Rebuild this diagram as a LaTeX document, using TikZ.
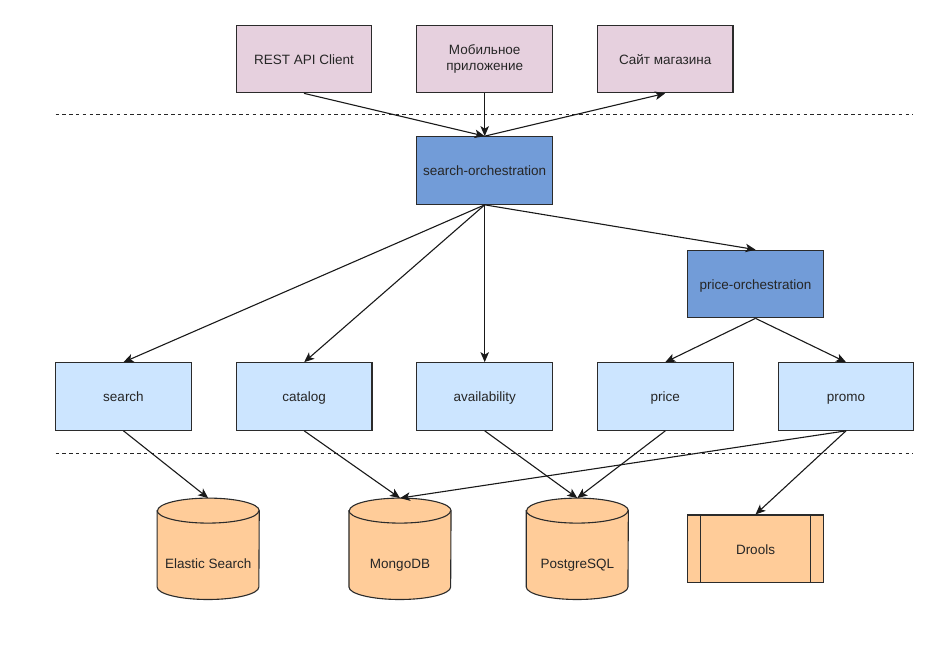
\documentclass[tikz,border=0pt]{standalone}
\usepackage{fontspec}
\setmainfont{Liberation Sans}
\usetikzlibrary{arrows.meta}
\definecolor{pinkf}{HTML}{E6D0DE}
\definecolor{darkb}{HTML}{729CD8}
\definecolor{lightb}{HTML}{CCE5FF}
\definecolor{orangef}{HTML}{FFCC99}
\definecolor{strokec}{HTML}{2B2B2B}
\definecolor{txt}{HTML}{262626}
\newcommand\dbcyl[1]{%
  \path[draw=strokec, fill=orangef, line width=1.1pt]
    ([yshift=-12.5pt]#1.north west) -- ([yshift=12.5pt]#1.south west)
    arc[start angle=180, end angle=360, x radius=50.85pt, y radius=12.5pt]
    -- ([yshift=-12.5pt]#1.north east)
    arc[start angle=0, end angle=180, x radius=50.85pt, y radius=12.5pt] -- cycle;
  \draw[strokec, line width=1.1pt] ([yshift=-12.5pt]#1.north west)
    arc[start angle=180, end angle=360, x radius=50.85pt, y radius=12.5pt];
}
\begin{document}
\begin{tikzpicture}[x=1pt, y=1pt,
  base/.style={draw=strokec, line width=1.1pt, minimum width=135.6pt, minimum height=67.6pt,
    inner sep=0pt, font=\fontsize{13.5}{16.5}\selectfont, text=txt, align=center},
  box/.style={base, text height=11.6pt, text depth=1.1pt},
  client/.style={box, fill=pinkf},
  client2/.style={base, fill=pinkf},
  orch/.style={box, fill=darkb},
  svc/.style={box, fill=lightb},
  cyl/.style={draw=none, minimum width=101.7pt, minimum height=101pt, inner sep=0pt},
  lbl/.style={font=\fontsize{13.5}{16.5}\selectfont, text=txt, inner sep=0pt, text height=11.6pt, text depth=1.1pt},
  arr/.style={draw=black!90, line width=1.1pt, -{Stealth[length=10pt, width=8.5pt, inset=2.5pt]}},
  sep/.style={draw=black!85, line width=1pt, dash pattern=on 3.4pt off 3.4pt},
]
\useasboundingbox (0,0) rectangle (939,-650);

% separators
\coordinate (s1a) at (55.5,-114.3);
\coordinate (s1b) at (913,-114.3);
\coordinate (s2a) at (55.5,-453.3);
\coordinate (s2b) at (913,-453.3);
\draw[sep] (s1a) -- (s1b);
\draw[sep] (s2a) -- (s2b);

% clients
\node[client] (rest) at (304,-59) {REST API Client};
\node[client2] (mob) at (484.7,-59) {Мобильное\\приложение};
\node[client] (site) at (665.2,-59) {Сайт магазина};

% orchestration
\node[orch] (so) at (484.7,-170.5) {search-orchestration};
\node[orch] (po) at (755.5,-284) {price-orchestration};

% services
\node[svc] (search) at (123.5,-396.5) {search};
\node[svc] (catalog) at (304.2,-396.5) {catalog};
\node[svc] (avail) at (484.7,-396.5) {availability};
\node[svc] (price) at (665.3,-396.5) {price};
\node[svc] (promo) at (846,-396.5) {promo};

% storages
\node[cyl] (es) at (208.2,-548.8) {};
\node[cyl] (mongo) at (400,-548.8) {};
\node[cyl] (pg) at (577.3,-548.8) {};
\dbcyl{es}
\dbcyl{mongo}
\dbcyl{pg}
\node[lbl] (esl) at ([yshift=-14pt]es.center) {Elastic Search};
\node[lbl] (mongol) at ([yshift=-14pt]mongo.center) {MongoDB};
\node[lbl] (pgl) at ([yshift=-14pt]pg.center) {PostgreSQL};

\node[box, fill=orangef] (dr) at (755.5,-548.8) {Drools};
\draw[strokec, line width=1.1pt] ([xshift=13.6pt]dr.north west) -- ([xshift=13.6pt]dr.south west);
\draw[strokec, line width=1.1pt] ([xshift=-13.6pt]dr.north east) -- ([xshift=-13.6pt]dr.south east);

% connectors
\draw[arr] (rest.south) -- (so.north);
\draw[arr] (mob.south) -- (so.north);
\draw[arr] (so.north) -- (site.south);
\draw[arr] (so.south) -- (search.north);
\draw[arr] (so.south) -- (catalog.north);
\draw[arr] (so.south) -- (avail.north);
\draw[arr] (so.south) -- (po.north);
\draw[arr] (po.south) -- (price.north);
\draw[arr] (po.south) -- (promo.north);
\draw[arr] (search.south) -- (es.north);
\draw[arr] (catalog.south) -- (mongo.north);
\draw[arr] (avail.south) -- (pg.north);
\draw[arr] (price.south) -- (pg.north);
\draw[arr] (promo.south) -- (mongo.north);
\draw[arr] (promo.south) -- (dr.north);
\end{tikzpicture}
\end{document}
